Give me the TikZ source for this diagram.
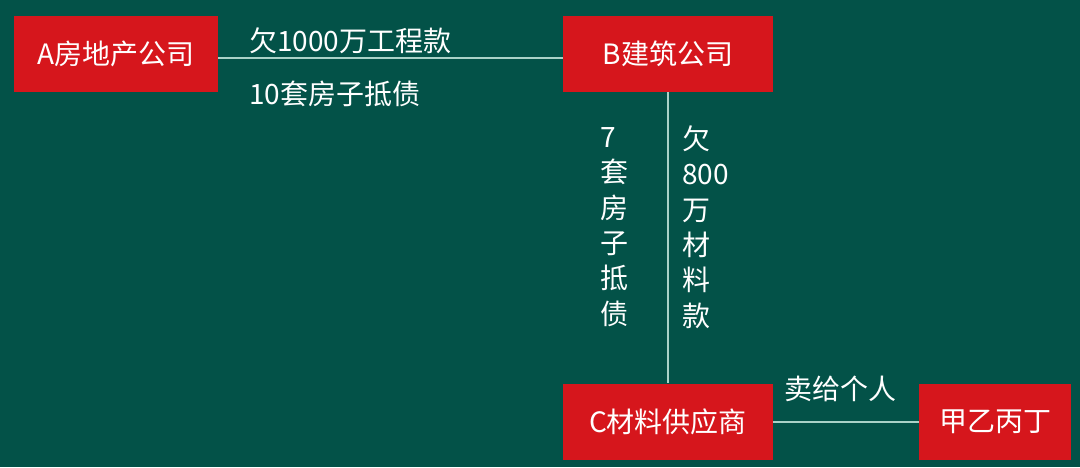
\documentclass[tikz,border=0pt]{standalone}
\usepackage{fontspec}
\setmainfont{Noto Sans CJK SC}
\definecolor{bg}{RGB}{3,82,72}
\definecolor{boxred}{RGB}{214,22,28}
\definecolor{linec}{RGB}{170,210,200}
\begin{document}
\begin{tikzpicture}[x=1pt,y=-1pt,
  box/.style={fill=boxred,draw=none,minimum width=210pt,minimum height=76pt,inner sep=0pt,text=white,font=\fontsize{28}{32}\selectfont},
  lab/.style={text=white,inner sep=0pt,font=\fontsize{28}{32}\selectfont},
  vlab/.style={text=white,inner sep=0pt,align=left,font=\fontsize{28}{35.4}\selectfont},
  conn/.style={draw=linec,line width=1.2pt}]
\fill[bg] (0,0) rectangle (1080,467);
\useasboundingbox (0,0) rectangle (1080,467);
\node[box,minimum width=204pt] (A) at (116,54) {A房地产公司};
\node[box] (B) at (668,54) {B建筑公司};
\node[box] (C) at (668,421.5) {C材料供应商};
\node[box,minimum width=152pt] (D) at (995,421.5) {甲乙丙丁};
\draw[conn] (A.east |- 0,58) -- (B.west |- 0,58);
\draw[conn] (B.south) -- (C.north);
\draw[conn] (C.east |- 0,422) -- (D.west |- 0,422);
\node[lab,anchor=west] (l1) at (249,41) {欠1000万工程款};
\node[lab,anchor=west] (l2) at (249,94) {10套房子抵债};
\node[lab,anchor=west] (l3) at (784,389) {卖给个人};
\node[vlab,anchor=west] (l4) at (600,227) {7\\套\\房\\子\\抵\\债};
\node[vlab,anchor=west] (l5) at (682,227) {欠\\800\\万\\材\\料\\款};
\end{tikzpicture}
\end{document}
